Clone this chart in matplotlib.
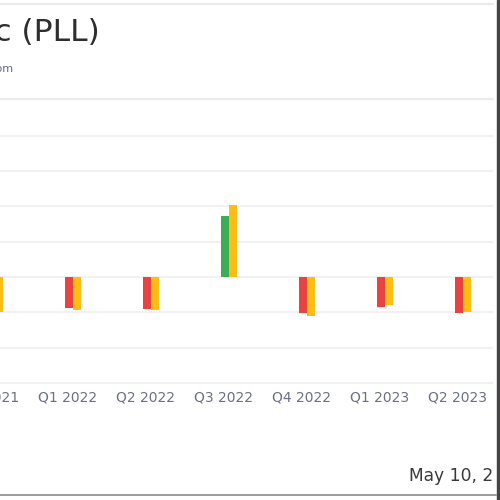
import matplotlib
matplotlib.use("Agg")
import matplotlib.pyplot as plt
from matplotlib.lines import Line2D
from matplotlib.patches import Rectangle

# quarterly EPS, actual vs. estimate
quarters = ['Q4 2021', 'Q1 2022', 'Q2 2022', 'Q3 2022', 'Q4 2022', 'Q1 2023', 'Q2 2023']
actual = [-0.50, -0.44, -0.46, 0.87, -0.51, -0.43, -0.51]
estimate = [-0.50, -0.47, -0.47, 1.02, -0.55, -0.40, -0.49]
yticks = [-1.5, -1.0, -0.5, 0.0, 0.5, 1.0, 1.5, 2.0]

W = H = 500.0


def fx(px):
    return px / W


def fy(px):
    return 1 - px / H


fig = plt.figure(figsize=(5, 5), dpi=100)
fig.patch.set_facecolor('white')

# plot area runs off the left edge of the picture
left_px, right_px, top_px, bot_px = -60, 493, 130, 386
ax = fig.add_axes([fx(left_px), fy(bot_px), (right_px - left_px) / W, (bot_px - top_px) / H])
ax.set_xlim((left_px + 10) / 78.0, (right_px + 10) / 78.0)
ax.set_ylim(-(bot_px - 277) / 35.3 * 0.5, (277 - top_px) / 35.3 * 0.5)

x = list(range(len(quarters)))
bar_w = 0.103
act_col = ['#3bae55' if a >= 0 else '#e84340' for a in actual]
ax.bar([i + 0.013 for i in x], actual, width=bar_w, color=act_col, zorder=3)
ax.bar([i + 0.115 for i in x], estimate, width=bar_w, color='#fdbd13', zorder=3)

ax.set_yticks(yticks)
ax.yaxis.grid(True, color='#f1f1f1', lw=1.5)
ax.set_axisbelow(True)
ax.set_yticklabels([])
ax.set_xticks(x)
ax.set_xticklabels(quarters, fontsize=10, color='#6b7086')
ax.tick_params(length=0, pad=3)
for s in ax.spines.values():
    s.set_visible(False)

# header
fig.text(fx(100), fy(41), 'Piedmont Lithium Inc (PLL)', ha='right', va='baseline',
         fontsize=22.5, color='#2e2e2e')
fig.text(fx(13), fy(72), 'Earnings Beat/Miss History by GuruFocus.com', ha='right',
         va='baseline', fontsize=8, color='#5d6b8a')
fig.add_artist(Line2D([0, fx(494)], [fy(4), fy(4)], color='#ebebeb', lw=1.6))
fig.add_artist(Line2D([0, fx(494)], [fy(99), fy(99)], color='#ebebeb', lw=1.6))

# footer date
fig.text(fx(409), fy(481), 'May 10, 2023', ha='left', va='baseline',
         fontsize=12.3, color='#3a3a3a')

# frame at right and bottom
fig.add_artist(Rectangle((fx(494), 0), fx(6), 1, transform=fig.transFigure,
                         color='white', zorder=10))
fig.add_artist(Rectangle((fx(496.5), 0), fx(3.5), 1, transform=fig.transFigure,
                         color='#454545', zorder=11))
fig.add_artist(Line2D([0, fx(496)], [fy(494.5), fy(494.5)], color='#8a8a8a', lw=1.2,
                      zorder=11))

fig.savefig('out.png', dpi=100)
